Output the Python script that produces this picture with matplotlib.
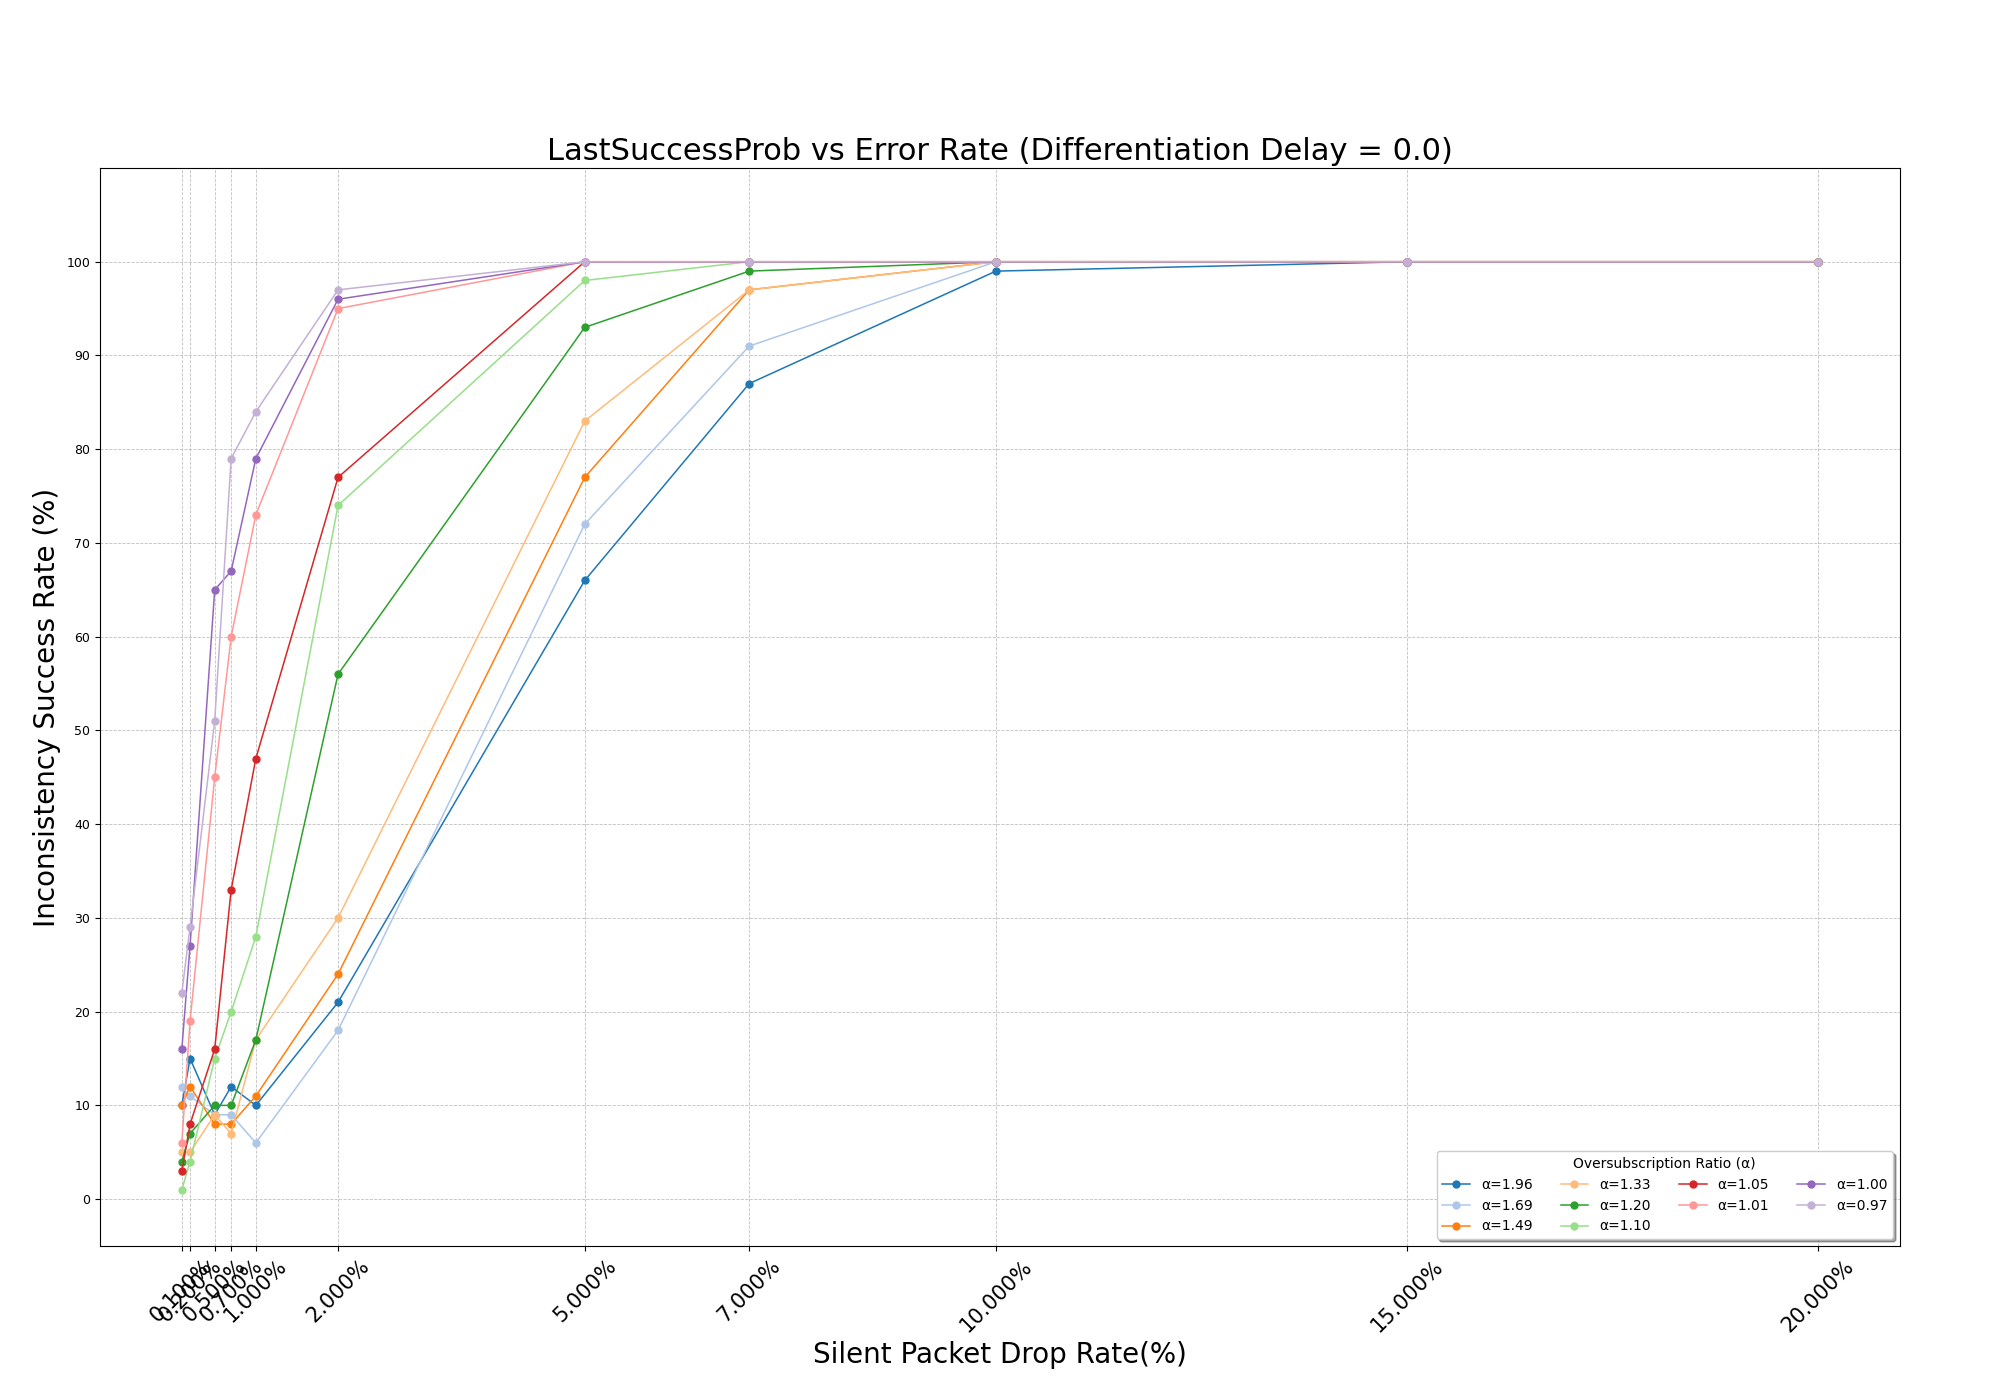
import matplotlib
matplotlib.use("Agg")
import matplotlib.pyplot as plt

drop_rates = [0.1, 0.2, 0.5, 0.7, 1.0, 2.0, 5.0, 7.0, 10.0, 15.0, 20.0]

alphas = ["1.96", "1.69", "1.49", "1.33", "1.20", "1.10", "1.05", "1.01", "1.00", "0.97"]

success = {
    "1.96": [10, 15, 9, 12, 10, 21, 66, 87, 99, 100, 100],
    "1.69": [12, 11, 9, 9, 6, 18, 72, 91, 100, 100, 100],
    "1.49": [10, 12, 8, 8, 11, 24, 77, 97, 100, 100, 100],
    "1.33": [5, 5, 9, 7, 17, 30, 83, 97, 100, 100, 100],
    "1.20": [4, 7, 10, 10, 17, 56, 93, 99, 100, 100, 100],
    "1.10": [1, 4, 15, 20, 28, 74, 98, 100, 100, 100, 100],
    "1.05": [3, 8, 16, 33, 47, 77, 100, 100, 100, 100, 100],
    "1.01": [6, 19, 45, 60, 73, 95, 100, 100, 100, 100, 100],
    "1.00": [16, 27, 65, 67, 79, 96, 100, 100, 100, 100, 100],
    "0.97": [22, 29, 51, 79, 84, 97, 100, 100, 100, 100, 100],
}

colors = plt.get_cmap("tab20").colors

fig, ax = plt.subplots(figsize=(20, 14), dpi=100)
fig.subplots_adjust(left=0.05, right=0.95, top=0.88, bottom=0.11)

for i, a in enumerate(alphas):
    ax.plot(drop_rates, success[a], marker="o", markersize=5, linewidth=1.1,
            color=colors[i], label=f"α={a}")

ax.set_xticks(drop_rates)
ax.set_xticklabels([f"{x:.3f}%" for x in drop_rates], rotation=45, fontsize=15)
ax.set_yticks(range(0, 101, 10))
ax.tick_params(axis="y", labelsize=9)
ax.set_ylim(-5, 110)

ax.grid(True, linestyle="--", linewidth=0.6, alpha=0.8)
ax.set_title("LastSuccessProb vs Error Rate (Differentiation Delay = 0.0)", fontsize=22)
ax.set_xlabel("Silent Packet Drop Rate(%)", fontsize=20)
ax.set_ylabel("Inconsistency Success Rate (%)", fontsize=20)

ax.legend(title="Oversubscription Ratio (α)", loc="lower right", ncol=4,
          shadow=True, fontsize=10)

fig.savefig("out.png")
